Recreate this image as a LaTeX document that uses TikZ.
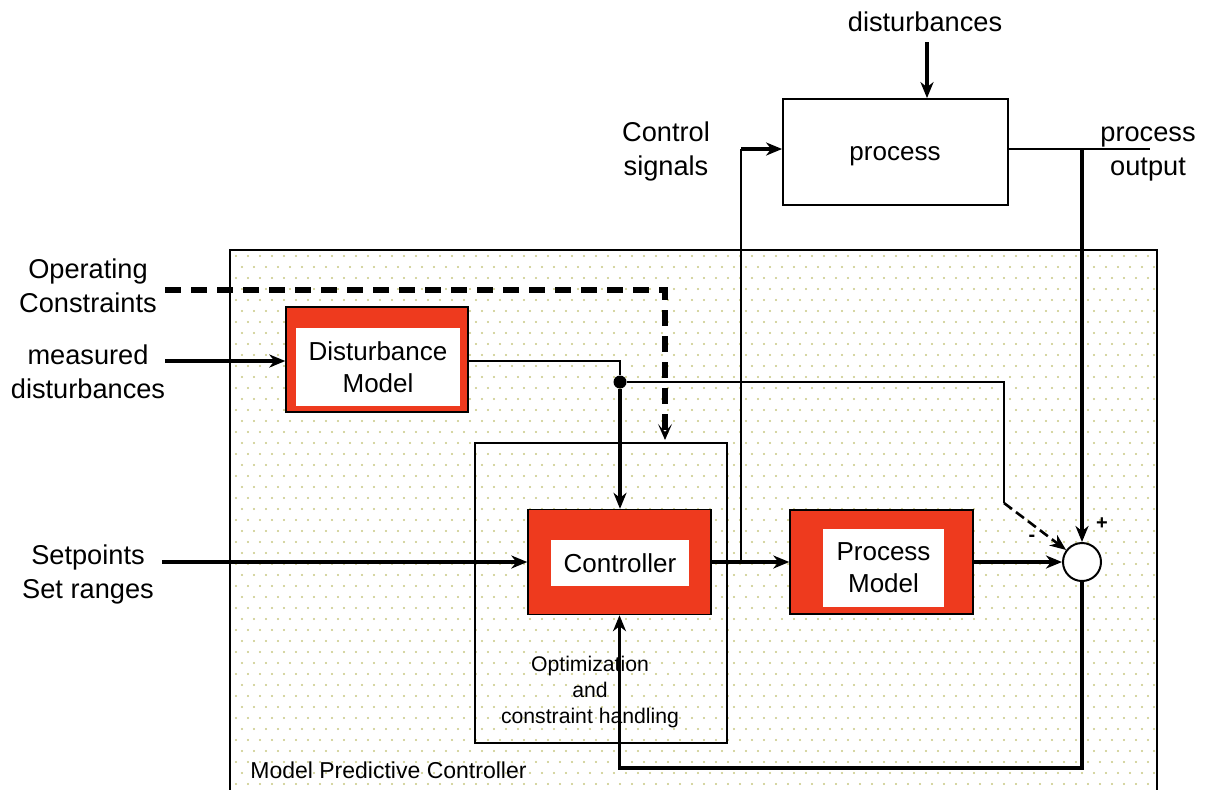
\documentclass[tikz,border=0pt]{standalone}
\usepackage{fontspec}
\setmainfont{Liberation Sans}
\usetikzlibrary{arrows.meta,calc}
\definecolor{mpcred}{RGB}{238,58,30}
\definecolor{dotcol}{RGB}{200,200,130}
\begin{document}
\begin{tikzpicture}[x=0.5pt,y=-0.5pt,
  thinwire/.style={line width=0.9pt},
  thickwire/.style={line width=1.6pt},
  tip/.style={-{Stealth[length=8pt,width=6.5pt,inset=2.5pt]}},
  plainbox/.style={draw=black,line width=0.9pt,fill=white,inner sep=0pt},
  redbox/.style={draw=black,line width=0.7pt,fill=mpcred,inner sep=0pt},
  innerbox/.style={fill=white,inner sep=0pt,font=\fontsize{13}{16}\selectfont,align=center},
  extlabel/.style={font=\fontsize{13.6}{17}\selectfont,align=center,inner sep=0pt},
  smalllabel/.style={font=\fontsize{10.6}{13}\selectfont,align=center,inner sep=0pt},
]
\useasboundingbox (0,0) rectangle (1214,789);

% controller frame with dotted background
\fill[white] (230,250) rectangle (1157,800);
\foreach \r in {0,...,48}{
  \pgfmathsetmacro{\off}{6*mod(\r,2)}
  \foreach \c in {0,...,76}{
    \fill[dotcol] ({236+12*\c+\off},{256+11*\r}) circle (0.6pt);
  }
}
\node[draw=black,line width=0.9pt,inner sep=0pt,minimum width=463.5pt,minimum height=275pt] (mpc) at (693.5,525) {};
\node[anchor=west,inner sep=0pt,font=\fontsize{11.5}{13}\selectfont] (mpclbl) at (250,770) {Model Predictive Controller};

% optimisation frame
\node[draw=black,line width=0.8pt,inner sep=0pt,minimum width=126pt,minimum height=150pt] (opt) at (601,593) {};
\node[smalllabel] (optlbl) at (590,692) {Optimization\\and\\constraint handling};

% process
\node[plainbox,minimum width=112.5pt,minimum height=53pt] (proc) at (895.5,152) {};
\node[inner sep=0pt,font=\fontsize{13}{16}\selectfont] (proclbl) at (895,156) {process};

% red blocks
\node[redbox,minimum width=91pt,minimum height=52.5pt] (dm) at (377,359.5) {};
\node[innerbox,minimum width=82pt,minimum height=39pt] (dmin) at (378,367) {Disturbance\\Model};
\node[redbox,minimum width=91.5pt,minimum height=52.5pt] (ctrl) at (619.5,562) {};
\node[innerbox,minimum width=69pt,minimum height=23pt] (ctrlin) at (620,563) {Controller};
\node[redbox,minimum width=91.5pt,minimum height=52pt] (pm) at (881.5,562) {};
\node[innerbox,minimum width=60.5pt,minimum height=39pt] (pmin) at (883.5,568) {Process\\Model};

% summing junction
\node[circle,draw=black,line width=1pt,fill=white,minimum size=19pt,inner sep=0pt] (sum) at (1082,562) {};
\node[font=\bfseries\fontsize{10}{12}\selectfont,inner sep=0pt] (plus) at (1102,524) {+};
\node[font=\bfseries\fontsize{10}{12}\selectfont,inner sep=0pt] (minus) at (1032,538) {-};

% outside labels
\node[extlabel] (dlbl) at (925,22) {disturbances};
\node[extlabel] (cslbl) at (666,151) {Control\\signals};
\node[extlabel] (polbl) at (1148,154) {process\\output};
\node[extlabel] (oclbl) at (88,286) {Operating\\Constraints};
\node[extlabel] (mdlbl) at (88,372) {measured\\disturbances};
\node[extlabel] (splbl) at (88,574) {Setpoints\\Set ranges};

% connection points
\coordinate (dtop) at (927,42);
\coordinate (ocA) at (165,290);
\coordinate (ocB) at (665,440);
\coordinate (mdA) at (165,361);
\coordinate (spA) at (162,562);
\coordinate (dmout) at (468,361);
\coordinate (kneeD) at (1004,503);
\coordinate (csB) at (741,562);
\coordinate (csT) at (741,149);
\coordinate (poA) at (1008,149);
\coordinate (poB) at (1150,149);
\coordinate (poJ) at (1082,149);
\coordinate (fbC) at (1082,768);
\node[circle,fill=black,inner sep=0pt,minimum size=6.5pt] (junc) at (620,382) {};

% process disturbance
\draw[thickwire,tip] (dtop) -- (dtop |- proc.north);

% operating constraints
\draw[line width=3pt,dash pattern=on 8pt off 5pt,-{Stealth[length=8pt,width=7pt,inset=4pt]}] (ocA) -| (ocB);

% measured disturbances and disturbance model output
\draw[thickwire,tip] (mdA) -- (mdA -| dm.west);
\draw[thinwire] (dmout) -| (junc);
\draw[thickwire,tip] (junc) -- (junc |- ctrl.north);
\draw[thinwire] (junc) -| (kneeD);
\draw[line width=1.3pt,dash pattern=on 5pt off 2.5pt,tip] (kneeD) -- (sum);

% setpoints
\draw[thickwire,tip] (spA) -- (spA -| ctrl.west);

% controller to process model and to the plant
\draw[thickwire,tip] (ctrl.east) -- (pm.west);
\draw[thinwire] (csB) -- (csT);
\draw[thickwire,tip] (csT) -- (csT -| proc.west);

% process output
\draw[thinwire] (poA) -- (poB);
\draw[thickwire,tip] (poJ) -- (sum.north);

% model output and feedback
\draw[thickwire,tip] (pm.east) -- (sum.west);
\draw[thickwire,tip] (sum.south) -- (fbC) -| (ctrl.south);
\end{tikzpicture}
\end{document}
